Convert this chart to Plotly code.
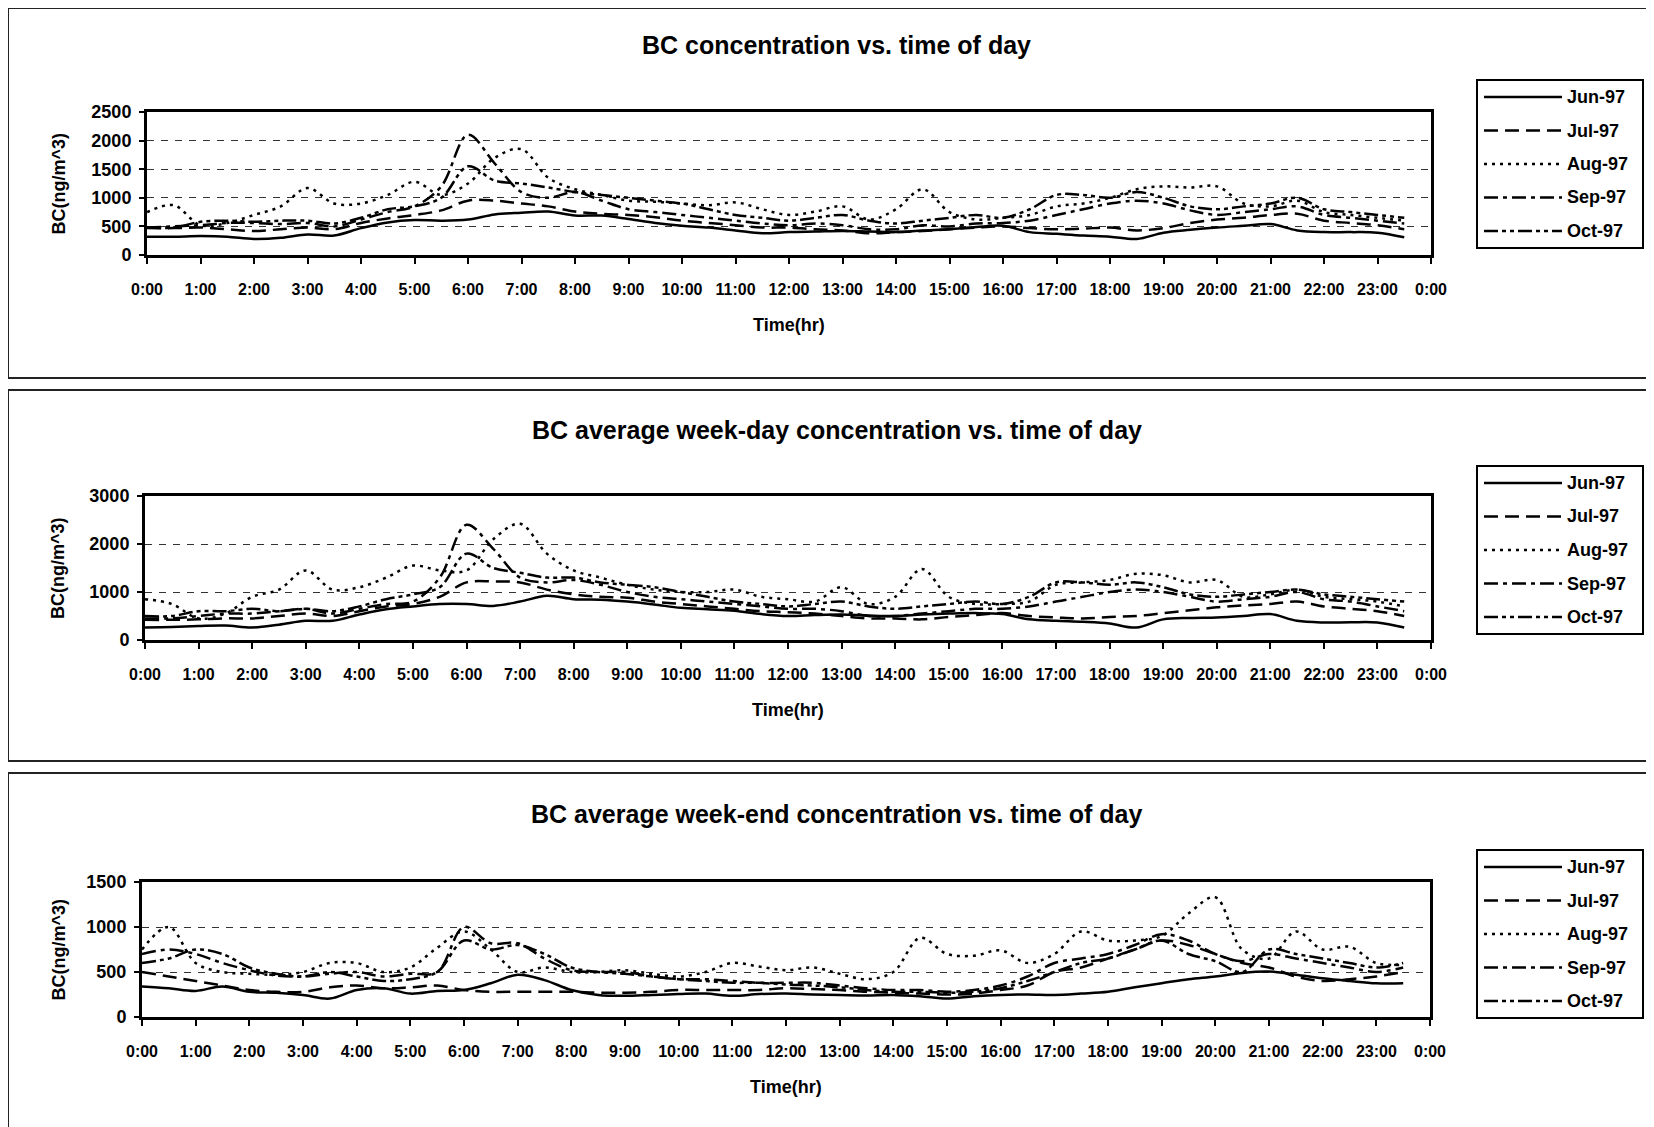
import plotly.graph_objects as go

# page is rendered with an 8px body margin, so the figure is sized to fit the window
OFF = 8
W, H = 1654 - OFF, 1127 - OFF

HOURS = [0, 0.5, 1, 1.5, 2, 2.5, 3, 3.5, 4, 4.5, 5, 5.5, 6, 6.5, 7, 7.5, 8, 8.5, 9, 9.5,
         10, 10.5, 11, 11.5, 12, 12.5, 13, 13.5, 14, 14.5, 15, 15.5, 16, 16.5, 17, 17.5,
         18, 18.5, 19, 19.5, 20, 20.5, 21, 21.5, 22, 22.5, 23, 23.5]
TICK_VALS = list(range(25))
TICK_LABELS = ["0:00", "1:00", "2:00", "3:00", "4:00", "5:00", "6:00", "7:00", "8:00", "9:00",
               "10:00", "11:00", "12:00", "13:00", "14:00", "15:00", "16:00", "17:00", "18:00",
               "19:00", "20:00", "21:00", "22:00", "23:00", "0:00"]
MONTHS = ["Jun-97", "Jul-97", "Aug-97", "Sep-97", "Oct-97"]

# ---- Panel 1: all days ----
ALL_JUN = [320, 320, 330, 320, 280, 300, 360, 340, 470, 570, 610, 600, 620, 710, 740, 760, 690, 690, 630, 560,
           510, 480, 430, 380, 400, 410, 420, 410, 400, 430, 450, 490, 510, 400, 370, 340, 320, 280, 390, 440,
           480, 510, 540, 430, 400, 400, 390, 310]
ALL_JUL = [470, 470, 480, 450, 420, 450, 480, 450, 560, 640, 700, 780, 950, 950, 900, 850, 760, 720, 700, 660,
           600, 560, 520, 480, 480, 450, 430, 380, 400, 420, 450, 480, 500, 470, 450, 460, 480, 430, 470, 560,
           620, 650, 700, 720, 600, 560, 520, 450]
ALL_AUG = [750, 870, 520, 560, 700, 850, 1170, 900, 900, 1050, 1280, 1050, 1250, 1700, 1850, 1350, 1150, 1050, 950, 930,
           900, 870, 920, 800, 700, 760, 850, 620, 800, 1150, 750, 620, 650, 700, 850, 900, 1000, 1150, 1200, 1180,
           1200, 900, 850, 950, 750, 700, 650, 600]
ALL_SEP = [480, 500, 520, 560, 560, 540, 560, 500, 620, 750, 850, 1200, 2100, 1600, 1100, 1000, 1100, 950, 800, 750,
           700, 650, 600, 550, 520, 550, 520, 450, 450, 520, 500, 550, 560, 600, 700, 800, 900, 950, 900, 780,
           700, 750, 800, 850, 700, 650, 600, 550]
ALL_OCT = [480, 480, 580, 600, 580, 600, 600, 550, 650, 800, 850, 1000, 1550, 1300, 1250, 1180, 1100, 1050, 1000, 950,
           900, 800, 700, 650, 600, 650, 700, 600, 550, 600, 650, 700, 650, 800, 1050, 1050, 1000, 1100, 1000, 850,
           800, 850, 900, 1000, 800, 750, 700, 650]

# ---- Panel 2: week-days ----
WD_JUN = [260, 270, 290, 300, 260, 320, 400, 400, 530, 640, 700, 750, 750, 710, 800, 920, 850, 840, 800, 740,
          670, 640, 610, 540, 500, 520, 530, 510, 500, 530, 550, 560, 540, 430, 400, 380, 345, 260, 430, 460,
          470, 500, 540, 400, 365, 370, 365, 260]
WD_JUL = [420, 420, 430, 450, 450, 500, 550, 500, 600, 700, 750, 900, 1200, 1220, 1200, 1050, 950, 900, 880, 800,
          750, 700, 650, 600, 580, 550, 500, 450, 450, 430, 480, 520, 560, 500, 470, 450, 480, 500, 560, 620,
          680, 720, 750, 800, 700, 650, 600, 500]
WD_AUG = [850, 750, 450, 550, 900, 1050, 1450, 1050, 1100, 1300, 1550, 1450, 1450, 2100, 2420, 1800, 1450, 1300, 1150, 1050,
          1000, 1000, 1050, 900, 850, 800, 1100, 750, 900, 1480, 900, 750, 750, 800, 1150, 1200, 1250, 1380, 1350, 1200,
          1250, 900, 950, 1050, 900, 850, 800, 700]
WD_SEP = [450, 450, 500, 550, 550, 600, 650, 550, 650, 750, 800, 1300, 2400, 1900, 1300, 1200, 1250, 1150, 1000, 900,
          850, 800, 750, 700, 650, 650, 600, 500, 500, 550, 600, 650, 650, 700, 800, 900, 1000, 1050, 1000, 900,
          800, 850, 900, 1000, 850, 800, 700, 600]
WD_OCT = [500, 500, 600, 600, 650, 600, 650, 600, 700, 850, 950, 1100, 1800, 1500, 1400, 1300, 1300, 1200, 1150, 1100,
          1000, 900, 800, 750, 700, 750, 800, 700, 650, 700, 750, 800, 750, 900, 1200, 1200, 1150, 1200, 1100, 950,
          900, 950, 1000, 1050, 950, 900, 850, 800]

# ---- Panel 3: week-ends ----
WE_JUN = [340, 320, 290, 340, 280, 270, 245, 205, 300, 320, 260, 290, 300, 375, 470, 410, 300, 245, 235, 245,
          255, 260, 235, 255, 260, 250, 245, 240, 245, 230, 205, 230, 245, 250, 245, 260, 280, 330, 375, 420,
          450, 490, 505, 470, 430, 400, 375, 375]
WE_JUL = [500, 450, 400, 350, 300, 280, 280, 330, 350, 320, 330, 350, 300, 280, 280, 280, 280, 270, 270, 280,
          300, 300, 300, 300, 320, 310, 300, 280, 270, 260, 250, 260, 300, 350, 500, 550, 650, 750, 850, 800,
          700, 600, 550, 450, 400, 420, 450, 500]
WE_AUG = [750, 1000, 600, 500, 480, 470, 500, 600, 600, 500, 550, 770, 950, 750, 500, 550, 500, 500, 520, 480,
          450, 500, 600, 560, 520, 550, 480, 420, 500, 880, 700, 680, 740, 600, 700, 950, 850, 850, 900, 1150,
          1330, 750, 650, 950, 750, 780, 600, 580]
WE_SEP = [700, 750, 700, 600, 520, 460, 450, 480, 500, 450, 480, 500, 1000, 820, 820, 650, 520, 500, 500, 450,
          420, 420, 400, 380, 380, 380, 350, 320, 300, 300, 280, 300, 350, 450, 600, 650, 700, 800, 920, 850,
          700, 620, 700, 650, 600, 550, 500, 550]
WE_OCT = [600, 650, 750, 700, 550, 480, 450, 500, 450, 400, 420, 500, 850, 750, 800, 700, 550, 500, 480, 450,
          420, 400, 380, 380, 360, 350, 330, 300, 280, 280, 270, 280, 320, 400, 500, 600, 650, 750, 850, 700,
          620, 500, 750, 700, 650, 600, 550, 600]

TITLES = ["BC concentration vs. time of day",
          "BC average week-day concentration vs. time of day",
          "BC average week-end concentration vs. time of day"]
Y_MAX = [2500, 3000, 1500]
Y_STEP = [500, 1000, 500]
PANEL_DATA = [
    [ALL_JUN, ALL_JUL, ALL_AUG, ALL_SEP, ALL_OCT],
    [WD_JUN, WD_JUL, WD_AUG, WD_SEP, WD_OCT],
    [WE_JUN, WE_JUL, WE_AUG, WE_SEP, WE_OCT],
]

DASHES = ["solid", "14px,7px", "3px,5px", "14px,5px,4px,5px", "14px,4px,4px,4px,4px,4px"]

# ---- layout geometry (page pixels) ----
PLOT_BOX = [  # x0, x1, y_top, y_bottom
    (147, 1431, 112, 255),
    (145, 1431, 496, 640),
    (142, 1430, 882, 1017),
]
PANEL_BOX = [(8, 378), (390, 761), (773, 1140)]
TITLE_Y = [45, 430, 814]
LEGEND_TOP = [80, 466, 850]

def px(x):
    return (x - OFF) / W

def py(y):
    return 1 - (y - OFF) / H

FONT = "Liberation Sans, Arial, sans-serif"
fig = go.Figure()
shapes = []
annotations = []

for i in range(3):
    xa = "x" if i == 0 else f"x{i+1}"
    ya = "y" if i == 0 else f"y{i+1}"
    for j, name in enumerate(MONTHS):
        fig.add_trace(go.Scatter(
            x=HOURS, y=PANEL_DATA[i][j], name=name, mode="lines",
            line=dict(color="black", width=2.5, dash=DASHES[j], shape="spline", smoothing=1.0),
            xaxis=xa, yaxis=ya, showlegend=False))
    x0, x1, yt, yb = PLOT_BOX[i]
    axkey = "xaxis" if i == 0 else f"xaxis{i+1}"
    aykey = "yaxis" if i == 0 else f"yaxis{i+1}"
    fig.layout[axkey] = dict(
        domain=[px(x0), px(x1)], anchor=ya, range=[0, 24],
        tickvals=TICK_VALS, ticktext=TICK_LABELS, automargin=False,
        showline=True, linecolor="black", linewidth=3, mirror=True,
        ticks="outside", ticklen=6, tickwidth=2, tickcolor="black",
        ticklabelstandoff=12,
        tickfont=dict(family=FONT, size=16, color="black", weight="bold"),
        showgrid=False, zeroline=False, fixedrange=True)
    fig.layout[aykey] = dict(
        domain=[py(yb), py(yt)], anchor=xa, range=[0, Y_MAX[i]], dtick=Y_STEP[i], tick0=0,
        automargin=False,
        showline=True, linecolor="black", linewidth=3, mirror=True,
        ticks="outside", ticklen=5, tickwidth=2, tickcolor="black",
        ticklabelstandoff=4,
        tickfont=dict(family=FONT, size=18, color="black", weight="bold"),
        showgrid=True, gridcolor="#333333", gridwidth=1.2, griddash="7px,7px",
        zeroline=False, fixedrange=True)

    # panel border
    pt, pb = PANEL_BOX[i]
    shapes.append(dict(type="rect", xref="paper", yref="paper",
                       x0=px(8), x1=px(1660), y0=py(pb), y1=py(pt),
                       line=dict(color="#222222", width=2), layer="below"))
    # title
    annotations.append(dict(text="<b>" + TITLES[i] + "</b>", xref="paper", yref="paper",
                            x=px(837), y=py(TITLE_Y[i]), xanchor="center", yanchor="middle",
                            showarrow=False, font=dict(family=FONT, size=25, color="black")))
    # x-axis title
    annotations.append(dict(text="<b>Time(hr)</b>", xref="paper", yref="paper",
                            x=px((x0 + x1) / 2), y=py(yb + 70), xanchor="center", yanchor="middle",
                            showarrow=False, font=dict(family=FONT, size=18, color="black")))
    # y-axis title
    annotations.append(dict(text="<b>BC(ng/m^3)</b>", xref="paper", yref="paper",
                            x=px(58), y=py((yt + yb) / 2), xanchor="center", yanchor="middle",
                            textangle=-90, showarrow=False,
                            font=dict(family=FONT, size=18, color="black")))
    # legend box (custom, to mimic long line samples)
    lt = LEGEND_TOP[i]
    shapes.append(dict(type="rect", xref="paper", yref="paper",
                       x0=px(1477), x1=px(1643), y0=py(lt + 168), y1=py(lt),
                       line=dict(color="black", width=2), fillcolor="white"))
    for j, name in enumerate(MONTHS):
        ey = lt + 17 + j * 33.5
        shapes.append(dict(type="line", xref="paper", yref="paper",
                           x0=px(1484), x1=px(1562), y0=py(ey), y1=py(ey),
                           line=dict(color="black", width=2.5, dash=DASHES[j])))
        annotations.append(dict(text="<b>" + name + "</b>", xref="paper", yref="paper",
                                x=px(1565), y=py(ey), xanchor="left", yanchor="middle",
                                showarrow=False, font=dict(family=FONT, size=18, color="black")))

fig.update_layout(
    width=W, height=H, margin=dict(l=0, r=0, t=0, b=0, pad=0, autoexpand=False),
    paper_bgcolor="white", plot_bgcolor="white",
    shapes=shapes, annotations=annotations, showlegend=False,
)

fig.write_html("out.html")
